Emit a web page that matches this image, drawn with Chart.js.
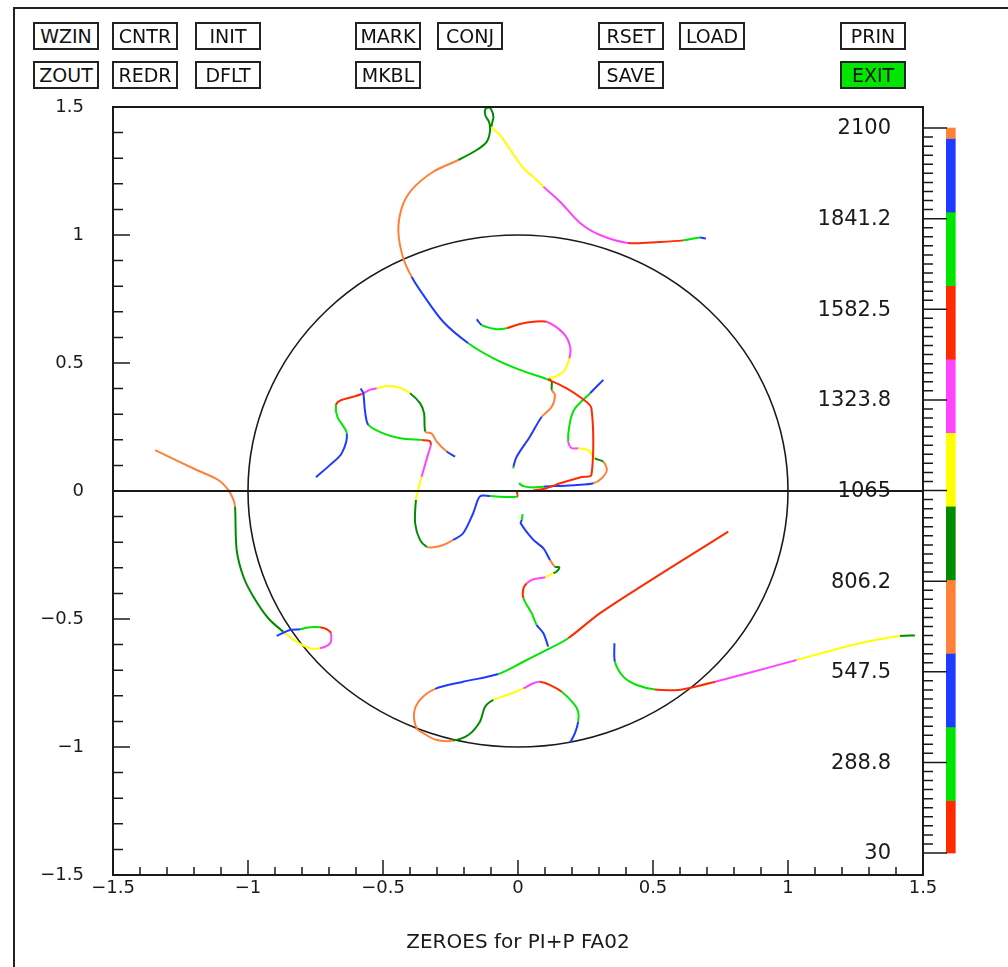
<!DOCTYPE html>
<html><head><meta charset="utf-8">
<script src="https://cdn.jsdelivr.net/npm/chart.js@4/dist/chart.umd.min.js"></script>
<style>
html,body{margin:0;padding:0;background:#fff;}
#wrap{position:relative;width:1008px;height:967px;overflow:hidden;background:#fff;}
#frame{position:absolute;left:13px;top:7px;width:1100px;height:1100px;border-left:2px solid #222;border-top:2px solid #222;}
canvas{position:absolute;left:0;top:0;}
.btn{position:absolute;box-sizing:border-box;height:28px;width:66px;border:2px solid #222;font:19px "DejaVu Sans",sans-serif;display:flex;align-items:center;justify-content:center;color:#111;background:#fff;z-index:2;}
</style></head>
<body><div id="wrap"><div id="frame"></div><canvas id="c" width="1008" height="967"></canvas></div>
<script>
// ---------- data ----------
const COLORS = {R:'#ff2a00', G:'#00e600', B:'#1e3cff', O:'#ff8038', D:'#008c00', Y:'#ffff00', M:'#ff44ff'};

const xTickLabels = ['\u22121.5','\u22121','\u22120.5','0','0.5','1','1.5'];
const yTickLabels = ['\u22121.5','\u22121','\u22120.5','0','0.5','1','1.5'];
const cbarTickLabels = ['30','288.8','547.5','806.2','1065','1323.8','1582.5','1841.2','2100'];
const cbarMin = 30, cbarMax = 2100;
const bandEdges = [30,180,390,600,810,1020,1230,1440,1650,1860,2070,2100];
const bandColors = ['R','G','B','O','D','Y','M','R','G','B','O'];

const zeroLineX = [-1.5, 1.5];
const zeroLineY = [0, 0];
const unitRadius = 1;

const curveA = [
 ['B', [[0.696,0.986],[0.674,0.990]]],
 ['G', [[0.674,0.990],[0.611,0.979]]],
 ['R', [[0.611,0.979],[0.526,0.973],[0.407,0.969]]],
 ['M', [[0.407,0.969],[0.304,1.000],[0.230,1.047],[0.156,1.130],[0.094,1.189]]],
 ['Y', [[0.094,1.189],[0.056,1.228],[0.020,1.261],[-0.067,1.391],[-0.097,1.423]]],
 ['D', [[-0.097,1.423],[-0.091,1.461],[-0.100,1.492],[-0.111,1.498],[-0.122,1.488],[-0.120,1.465],[-0.107,1.441],[-0.104,1.404],[-0.116,1.364],[-0.153,1.332],[-0.221,1.293]]],
 ['O', [[-0.221,1.293],[-0.314,1.247],[-0.394,1.176],[-0.431,1.104],[-0.443,1.013],[-0.425,0.909],[-0.394,0.837]]],
 ['B', [[-0.394,0.837],[-0.351,0.766],[-0.277,0.661],[-0.184,0.577]]],
 ['G', [[-0.184,0.577],[-0.091,0.518],[0.007,0.473],[0.109,0.436]]],
 ['R', [[0.109,0.436],[0.180,0.401],[0.236,0.362],[0.272,0.323],[0.272,0.063],[0.236,0.055],[0.156,0.030],[0.106,0.011],[0.056,0.002]]]
];
const curveB = [
 ['R', [[-0.005,0.004],[-0.004,-0.022]]],
 ['G', [[-0.004,-0.022],[-0.104,-0.020]]],
 ['B', [[-0.104,-0.020],[-0.141,-0.021],[-0.166,-0.087],[-0.203,-0.165],[-0.240,-0.191]]],
 ['O', [[-0.240,-0.191],[-0.277,-0.211],[-0.314,-0.220],[-0.338,-0.218]]],
 ['D', [[-0.338,-0.218],[-0.363,-0.191],[-0.381,-0.126],[-0.378,-0.035]]],
 ['Y', [[-0.378,-0.035],[-0.370,0.004],[-0.357,0.056]]],
 ['M', [[-0.357,0.056],[-0.332,0.147],[-0.323,0.180]]],
 ['R', [[-0.323,0.180],[-0.328,0.196],[-0.357,0.199]]],
 ['G', [[-0.357,0.199],[-0.437,0.206],[-0.499,0.225],[-0.554,0.258]]],
 ['B', [[-0.554,0.258],[-0.567,0.316],[-0.573,0.382],[-0.583,0.400]]]
];
const curveC = [
 ['B', [[-0.153,0.671],[-0.134,0.648]]],
 ['G', [[-0.134,0.648],[-0.079,0.632],[-0.042,0.636]]],
 ['R', [[-0.042,0.636],[0.007,0.652],[0.057,0.661],[0.106,0.661]]],
 ['M', [[0.106,0.661],[0.168,0.616],[0.193,0.564],[0.190,0.518]]],
 ['Y', [[0.190,0.518],[0.168,0.466],[0.137,0.446],[0.116,0.440]]],
 ['D', [[0.116,0.440],[0.125,0.427],[0.125,0.395]]],
 ['O', [[0.125,0.395],[0.137,0.375],[0.125,0.329],[0.088,0.290]]],
 ['B', [[0.088,0.290],[0.044,0.212],[-0.005,0.134],[-0.017,0.095]]],
 ['G', [[-0.017,0.095],[-0.017,0.088]]]
];
const curveE = [
 ['B', [[0.316,0.434],[0.267,0.382]]],
 ['G', [[0.267,0.382],[0.211,0.323],[0.193,0.271],[0.186,0.193]]],
 ['M', [[0.186,0.193],[0.199,0.167],[0.223,0.167]]],
 ['Y', [[0.223,0.167],[0.260,0.160],[0.285,0.128]]],
 ['D', [[0.285,0.128],[0.316,0.114]]],
 ['O', [[0.316,0.114],[0.329,0.082],[0.310,0.050],[0.279,0.030]]],
 ['B', [[0.279,0.030],[0.217,0.023],[0.156,0.020],[0.094,0.017]]],
 ['G', [[0.094,0.017],[0.057,0.014],[0.026,0.017],[0.007,0.027],[0.006,0.033]]]
];
const curveF = [
 ['B', [[-0.748,0.054],[-0.696,0.102],[-0.653,0.147],[-0.634,0.225]]],
 ['G', [[-0.634,0.225],[-0.669,0.290],[-0.674,0.336]]],
 ['R', [[-0.674,0.336],[-0.659,0.353],[-0.610,0.368],[-0.579,0.379]]],
 ['M', [[-0.579,0.379],[-0.548,0.395],[-0.523,0.401]]],
 ['Y', [[-0.523,0.401],[-0.486,0.410],[-0.443,0.405],[-0.400,0.382]]],
 ['D', [[-0.400,0.382],[-0.363,0.343],[-0.348,0.304],[-0.343,0.232]]],
 ['O', [[-0.343,0.232],[-0.320,0.225],[-0.301,0.193],[-0.264,0.154]]],
 ['B', [[-0.264,0.154],[-0.233,0.134]]]
];
const curveG = [
 ['O', [[-1.344,0.160],[-1.190,0.082],[-1.110,0.043],[-1.073,0.004],[-1.054,-0.035],[-1.048,-0.061]]],
 ['D', [[-1.048,-0.061],[-1.042,-0.230],[-1.017,-0.335],[-0.980,-0.413],[-0.925,-0.497],[-0.869,-0.550]]],
 ['Y', [[-0.869,-0.550],[-0.820,-0.589],[-0.770,-0.614],[-0.733,-0.614]]],
 ['M', [[-0.733,-0.614],[-0.696,-0.595],[-0.693,-0.556]]],
 ['R', [[-0.693,-0.556],[-0.709,-0.540],[-0.733,-0.532]]],
 ['G', [[-0.733,-0.532],[-0.770,-0.532],[-0.807,-0.540]]],
 ['B', [[-0.807,-0.540],[-0.844,-0.543],[-0.894,-0.566]]]
];
const curveH = [
 ['R', [[0.779,-0.159],[0.551,-0.309],[0.304,-0.477],[0.186,-0.575]]],
 ['G', [[0.186,-0.575],[0.106,-0.621],[0.020,-0.667],[-0.073,-0.715]]],
 ['B', [[-0.073,-0.715],[-0.203,-0.745],[-0.307,-0.773]]],
 ['O', [[-0.307,-0.773],[-0.363,-0.816],[-0.385,-0.868],[-0.375,-0.927],[-0.351,-0.946],[-0.301,-0.973],[-0.240,-0.975]]],
 ['D', [[-0.240,-0.975],[-0.184,-0.953],[-0.141,-0.901],[-0.122,-0.843],[-0.091,-0.816]]],
 ['Y', [[-0.091,-0.816],[-0.030,-0.793],[0.020,-0.771]]],
 ['M', [[0.020,-0.771],[0.057,-0.751],[0.081,-0.745]]],
 ['R', [[0.081,-0.745],[0.119,-0.758],[0.162,-0.784]]],
 ['G', [[0.162,-0.784],[0.205,-0.829],[0.223,-0.862],[0.223,-0.901]]],
 ['B', [[0.223,-0.901],[0.211,-0.946],[0.193,-0.983]]]
];
const curveI = [
 ['G', [[0.017,-0.090],[0.014,-0.113]]],
 ['B', [[0.014,-0.113],[0.010,-0.126],[0.057,-0.191],[0.094,-0.224],[0.119,-0.270]]],
 ['O', [[0.119,-0.270],[0.137,-0.296]]],
 ['D', [[0.137,-0.296],[0.153,-0.298],[0.143,-0.315],[0.131,-0.321]]],
 ['Y', [[0.131,-0.321],[0.100,-0.337]]],
 ['M', [[0.100,-0.337],[0.057,-0.345],[0.032,-0.361]]],
 ['R', [[0.032,-0.361],[0.020,-0.380],[0.020,-0.419]]],
 ['G', [[0.020,-0.419],[0.051,-0.478],[0.069,-0.523]]],
 ['B', [[0.069,-0.523],[0.094,-0.556],[0.112,-0.608]]]
];
const curveJ = [
 ['B', [[0.357,-0.595],[0.359,-0.667]]],
 ['G', [[0.359,-0.667],[0.390,-0.725],[0.440,-0.758],[0.507,-0.775]]],
 ['R', [[0.507,-0.775],[0.594,-0.777],[0.643,-0.768],[0.730,-0.745]]],
 ['M', [[0.730,-0.745],[0.871,-0.706],[1.032,-0.660]]],
 ['Y', [[1.032,-0.660],[1.168,-0.621],[1.291,-0.589],[1.415,-0.566]]],
 ['D', [[1.415,-0.566],[1.470,-0.564]]]
];
const curves = [curveA, curveB, curveC, curveE, curveF, curveG, curveH, curveI, curveJ];

const buttonRow1 = ['WZIN','CNTR','INIT','MARK','CONJ','RSET','LOAD','PRIN'];
const buttonRow2 = ['ZOUT','REDR','DFLT','MKBL','SAVE','EXIT'];

// ---------- layout (positions only) ----------
const row1X = [33,112,195,355,437,598,679,840];
const row2X = [33,112,195,355,598,840];
const wrap = document.getElementById('wrap');
function addBtn(label, left, top, green) {
  const d = document.createElement('div');
  d.className = 'btn'; d.textContent = label;
  d.style.left = left + 'px'; d.style.top = top + 'px';
  if (green) d.style.background = '#00e600';
  wrap.appendChild(d);
}
buttonRow1.forEach((b, i) => addBtn(b, row1X[i], 22, false));
buttonRow2.forEach((b, i) => addBtn(b, row2X[i], 61, b === 'EXIT'));

// ---------- datasets ----------
function buildCurve(pieces) {
  const pts = [], segC = [];
  pieces.forEach(([c, arr]) => {
    arr.forEach((p, i) => {
      if (pts.length && i === 0) return;
      if (pts.length) segC.push(c);
      pts.push({x: p[0], y: p[1]});
    });
  });
  return {
    type: 'scatter', data: pts, showLine: true, pointRadius: 0, borderWidth: 2,
    tension: 0.3, borderColor: COLORS[segC[0]],
    segment: { borderColor: ctx => COLORS[segC[ctx.p0DataIndex]] }
  };
}
const datasets = [];
datasets.push({
  type: 'scatter', data: zeroLineX.map((v, i) => ({x: v, y: zeroLineY[i]})),
  showLine: true, pointRadius: 0, borderWidth: 2, borderColor: '#1a1a1a'
});
curves.forEach(c => datasets.push(buildCurve(c)));
datasets.push({
  type: 'bar', xAxisID: 'x', yAxisID: 'yf', clip: false,
  data: bandColors.map((c, i) => ({x: 1.603, y: [bandEdges[i], bandEdges[i + 1]]})),
  backgroundColor: bandColors.map(c => COLORS[c]),
  borderWidth: 0, barThickness: 9
});

function minorTicks(lo, hi, n) {
  const out = [];
  for (let k = 0; k <= n; k++) out.push({value: lo + (hi - lo) * k / n});
  return out;
}
function axisLabel(arr) {
  return v => { const k = Math.round(v * 10); return k % 5 === 0 ? arr[(k + 15) / 5] : ''; };
}

const furniture = {
  id: 'furniture',
  beforeDatasetsDraw(chart) {
    const {ctx, chartArea: a, scales: {x, y}} = chart;
    ctx.save();
    ctx.beginPath(); ctx.rect(a.left, a.top, a.right - a.left, a.bottom - a.top); ctx.clip();
    const cx = x.getPixelForValue(0), cy = y.getPixelForValue(0);
    const rx = x.getPixelForValue(unitRadius) - cx, ry = cy - y.getPixelForValue(unitRadius);
    ctx.beginPath(); ctx.ellipse(cx, cy, rx, ry, 0, 0, Math.PI * 2);
    ctx.strokeStyle = '#1a1a1a'; ctx.lineWidth = 1.6; ctx.stroke();
    ctx.restore();
  },
  afterDraw(chart) {
    const {ctx, chartArea: a, scales: {x, y, yf}} = chart;
    ctx.save();
    ctx.strokeStyle = '#1a1a1a';
    ctx.lineWidth = 2;
    ctx.strokeRect(a.left, a.top, a.right - a.left, a.bottom - a.top);
    ctx.lineWidth = 1.5;
    ctx.beginPath();
    y.ticks.forEach(t => {
      const p = y.getPixelForValue(t.value);
      const major = Math.round(t.value * 10) % 5 === 0;
      ctx.moveTo(a.left, p); ctx.lineTo(a.left + (major ? 17 : 10), p);
    });
    x.ticks.forEach(t => {
      const p = x.getPixelForValue(t.value);
      const major = Math.round(t.value * 10) % 5 === 0;
      ctx.moveTo(p, a.bottom); ctx.lineTo(p, a.bottom - (major ? 15 : 8));
    });
    yf.ticks.forEach((t, i) => {
      const p = yf.getPixelForValue(t.value);
      const major = i % 10 === 0;
      ctx.moveTo(a.right, p); ctx.lineTo(a.right + (major ? 24 : 10), p);
    });
    ctx.stroke();
    ctx.fillStyle = '#1a1a1a';
    ctx.font = '21px "DejaVu Sans"';
    ctx.textAlign = 'right'; ctx.textBaseline = 'middle';
    yf.ticks.forEach((t, i) => {
      if (i % 10 === 0) ctx.fillText(cbarTickLabels[i / 10], a.right - 32, yf.getPixelForValue(t.value) + 1);
    });
    ctx.restore();
  }
};

const tickFont = {family: 'DejaVu Sans', size: 18};
new Chart(document.getElementById('c'), {
  type: 'scatter',
  data: { datasets },
  plugins: [furniture],
  options: {
    responsive: false, animation: false, devicePixelRatio: 1, events: [],
    layout: { padding: { left: 0, top: 107, right: 0, bottom: 0 } },
    plugins: { legend: {display: false}, tooltip: {enabled: false} },
    scales: {
      x: {
        type: 'linear', min: -1.5, max: 1.5, offset: false,
        afterBuildTicks: s => { s.ticks = minorTicks(-1.5, 1.5, 30); },
        afterFit: s => { s.height = 92; },
        grid: {display: false, drawTicks: false, offset: false},
        border: {display: false},
        ticks: { autoSkip: false, maxRotation: 0, padding: 3, font: tickFont, color: '#1a1a1a', callback: axisLabel(xTickLabels) },
        title: { display: true, text: 'ZEROES for PI+P FA02', color: '#1a1a1a', font: {family: 'DejaVu Sans', size: 20}, padding: {top: 0, bottom: 12} }
      },
      y: {
        type: 'linear', position: 'left', min: -1.5, max: 1.5,
        afterBuildTicks: s => { s.ticks = minorTicks(-1.5, 1.5, 30); },
        afterFit: s => { s.width = 113; },
        grid: {display: false, drawTicks: false},
        border: {display: false},
        ticks: { autoSkip: false, padding: 29, font: tickFont, color: '#1a1a1a', callback: axisLabel(yTickLabels) }
      },
      yf: {
        type: 'linear', position: 'right', min: -32.8, max: 2160,
        afterBuildTicks: s => { s.ticks = minorTicks(cbarMin, cbarMax, 80); },
        afterFit: s => { s.width = 85; },
        grid: {display: false, drawTicks: false},
        border: {display: false},
        ticks: { display: false }
      }
    }
  }
});
</script>
</body></html>
